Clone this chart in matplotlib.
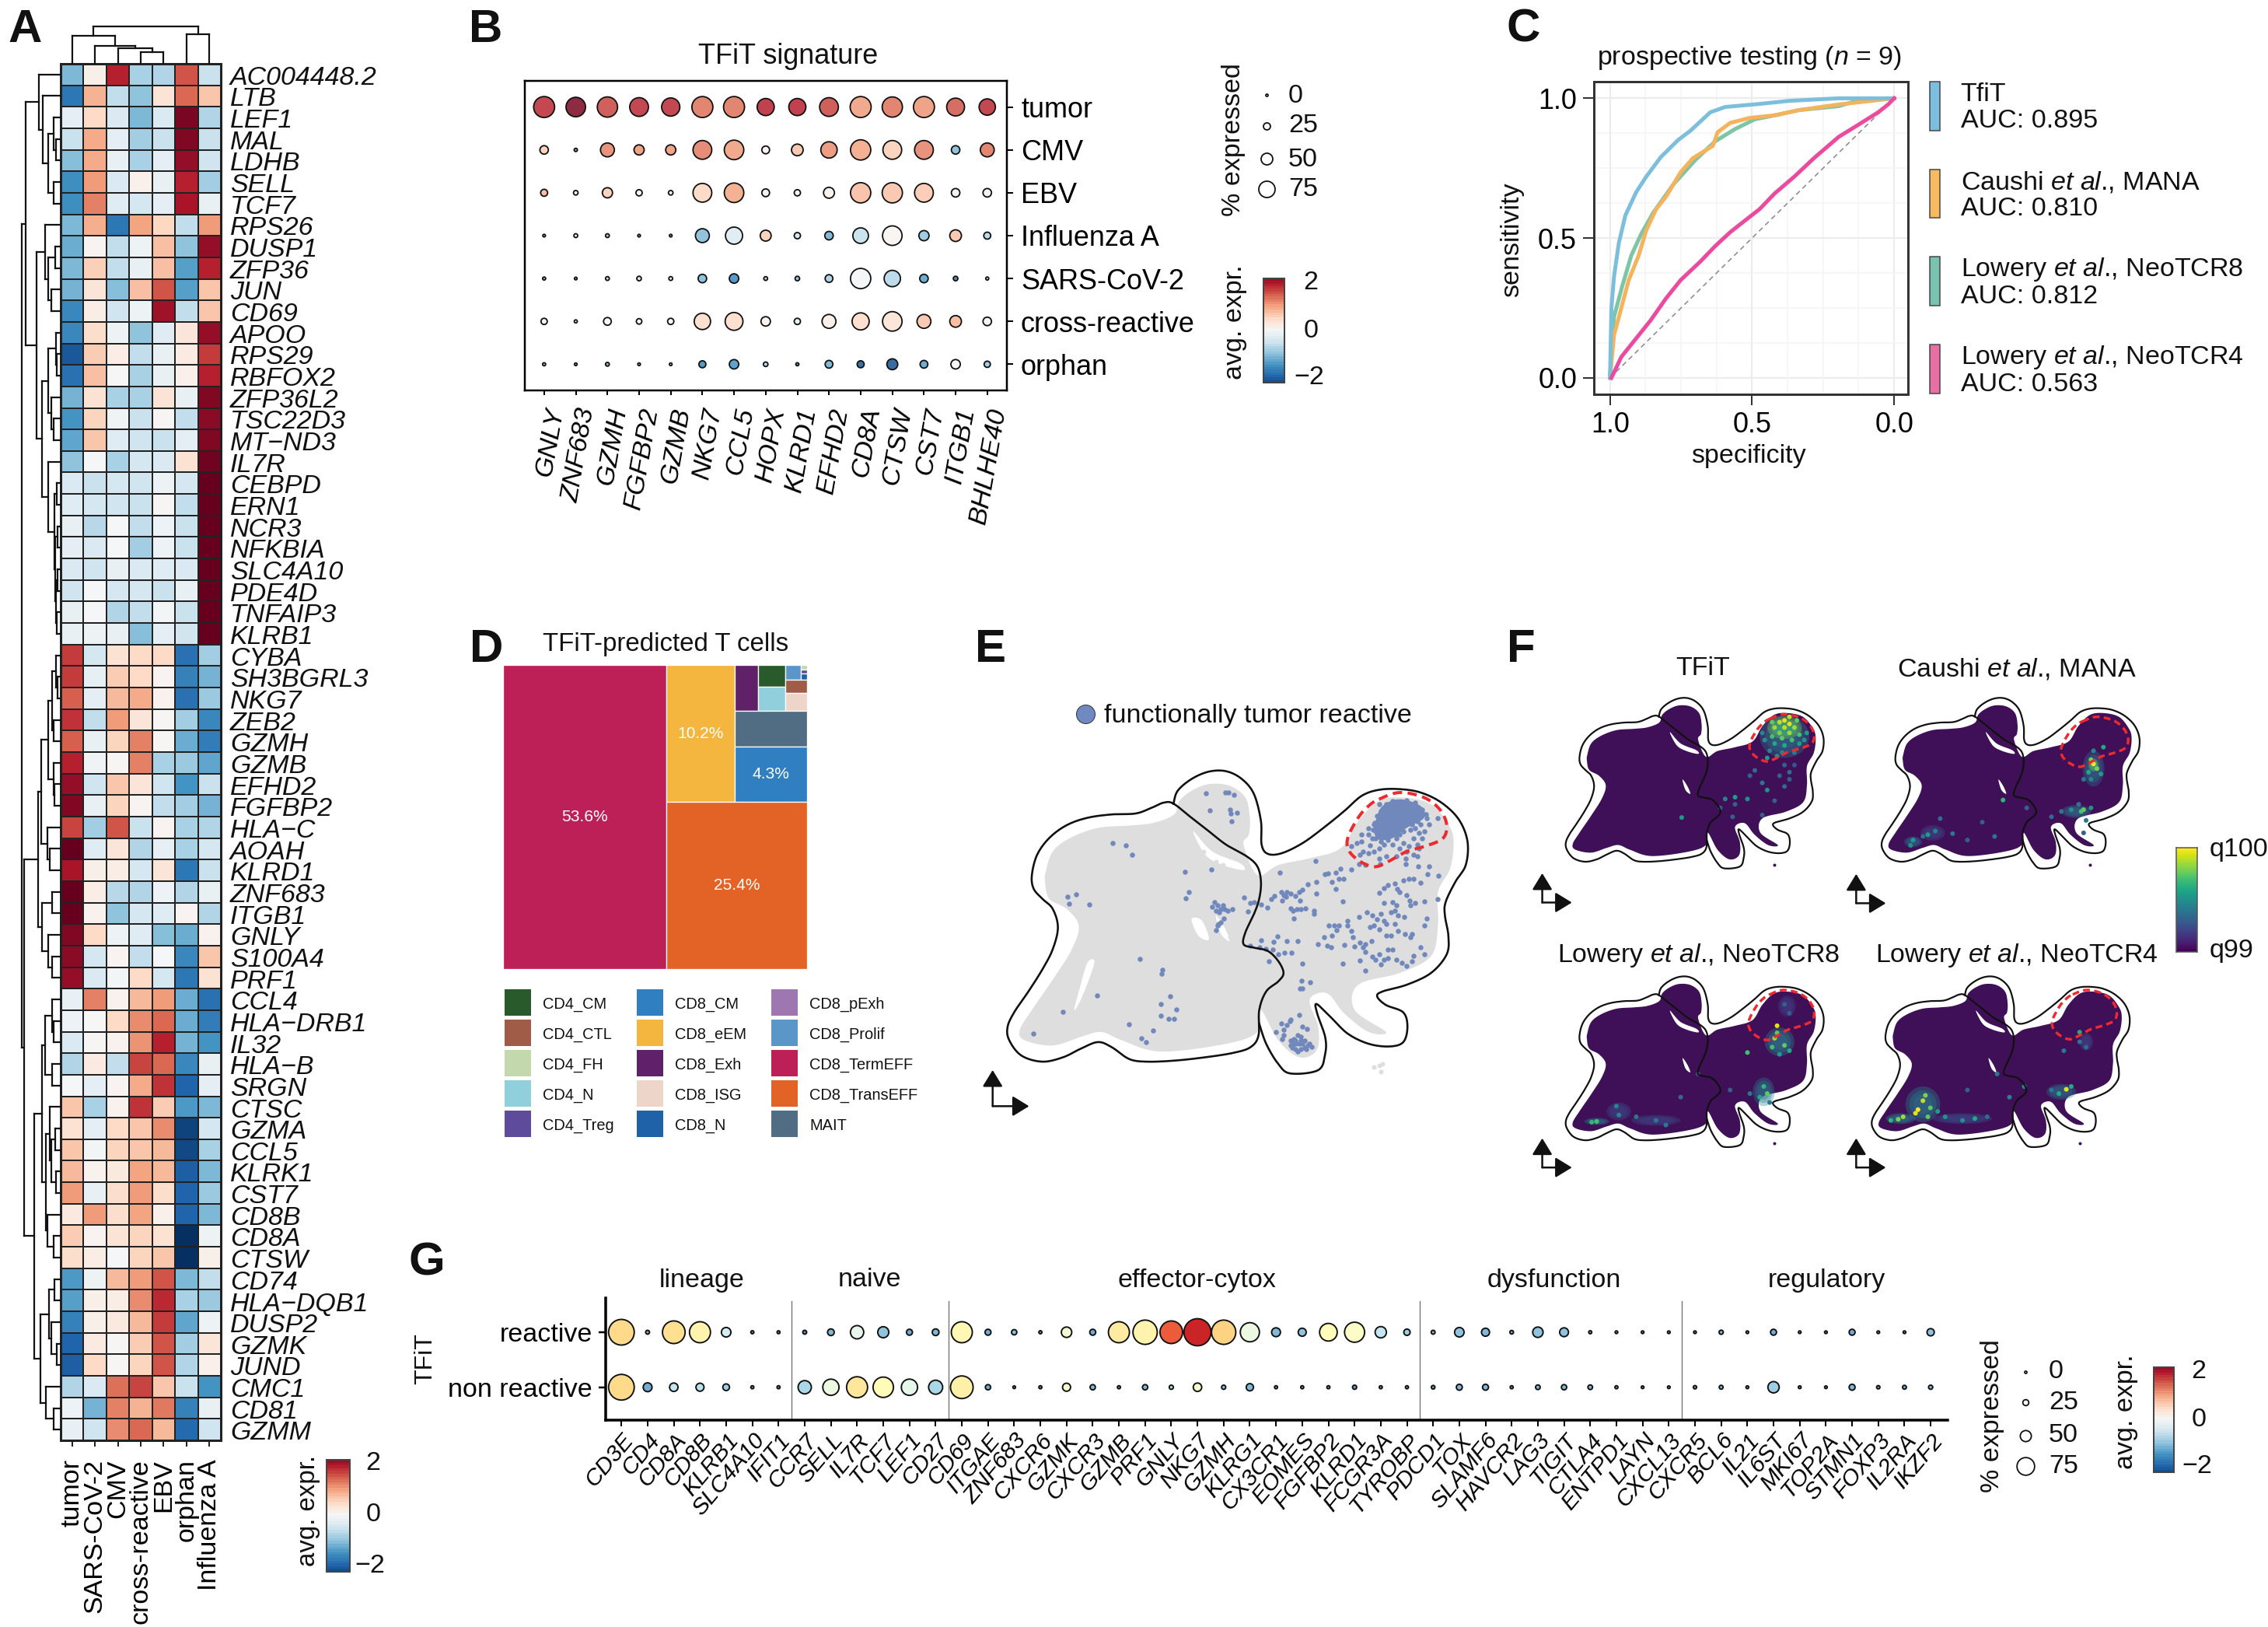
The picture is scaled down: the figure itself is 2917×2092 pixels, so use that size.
import numpy as np
import matplotlib
matplotlib.use("Agg")
import matplotlib.pyplot as plt
from matplotlib.patches import Polygon, Rectangle, Ellipse
from matplotlib.colors import Normalize

plt.rcParams['font.family'] = ['Liberation Sans', 'DejaVu Sans']
plt.rcParams['mathtext.fontset'] = 'custom'
plt.rcParams['mathtext.rm'] = 'Liberation Sans'
plt.rcParams['mathtext.it'] = 'Liberation Sans:italic'
plt.rcParams['mathtext.bf'] = 'Liberation Sans:bold'

W, H = 2917, 2092

# ---------------------------------------------------------------- panel A data
A_genes = ["AC004448.2", "LTB", "LEF1", "MAL", "LDHB", "SELL", "TCF7", "RPS26", "DUSP1", "ZFP36", "JUN", "CD69",
           "APOO", "RPS29", "RBFOX2", "ZFP36L2", "TSC22D3", "MT\u2212ND3", "IL7R", "CEBPD", "ERN1", "NCR3", "NFKBIA",
           "SLC4A10", "PDE4D", "TNFAIP3", "KLRB1", "CYBA", "SH3BGRL3", "NKG7", "ZEB2", "GZMH", "GZMB", "EFHD2",
           "FGFBP2", "HLA\u2212C", "AOAH", "KLRD1", "ZNF683", "ITGB1", "GNLY", "S100A4", "PRF1", "CCL4", "HLA\u2212DRB1",
           "IL32", "HLA\u2212B", "SRGN", "CTSC", "GZMA", "CCL5", "KLRK1", "CST7", "CD8B", "CD8A", "CTSW", "CD74",
           "HLA\u2212DQB1", "DUSP2", "GZMK", "JUND", "CMC1", "CD81", "GZMM"]
A_groups = ["tumor", "SARS-CoV-2", "CMV", "cross-reactive", "EBV", "orphan", "Influenza A"]
A_values = [
    [-.9, .12, 1.55, -.65, -.6, 1.25, -.45], [-1.45, .7, -.5, -.8, .28, 1.15, .55],
    [-.2, .4, -.3, -.9, -.3, 1.9, -.6], [-.45, .75, -.2, -.7, -.45, 1.85, -.45],
    [-.85, .75, -.15, -.65, -.2, 1.75, -.4], [-1.25, .85, -.3, .1, -.15, 1.55, -.7],
    [-1.25, 1.0, -.25, -.35, -.2, 1.65, -.15], [-.9, .72, -1.45, .8, .42, -.5, .85],
    [-1, .05, -.5, -.1, .6, -.8, 1.75], [-.9, .48, -.5, -.15, .6, -1.1, 1.55],
    [-.95, .25, -.85, .6, 1.25, -1.1, .55], [-1.3, .15, -.4, -.1, 1.7, -.5, .55],
    [-1.3, .35, -.1, -.8, -.25, .25, 1.75], [-1.7, .5, .15, -.5, -.15, .18, 1.4],
    [-1.5, .6, 0, -.65, -.15, .1, 1.55], [-.95, .3, -.65, -.65, .28, -.15, 1.85],
    [-1.2, .45, -.08, -.45, .03, -.5, 1.8], [-1.05, .55, -.25, -.4, -.45, -.2, 1.85],
    [-.8, -.03, -.65, -.35, -.3, .3, 1.95], [-.3, -.45, -.35, -.4, -.1, -.35, 2.2],
    [-.25, -.35, -.4, -.45, .03, -.5, 2.2], [-.15, -.55, -.02, -.5, -.12, -.45, 2.2],
    [-.2, -.3, -.02, -.7, -.12, -.45, 2.2], [-.3, -.4, -.15, -.3, -.25, -.3, 2.2],
    [-.4, -.03, -.35, -.35, -.45, -.15, 2.2], [-.15, -.02, -.6, -.5, -.05, -.45, 2.1],
    [-.15, -.1, -.15, -.85, -.2, -.4, 2.15], [1.4, -.35, .3, .4, .4, -1.5, -.7],
    [1.4, -.18, .5, .4, .05, -1.35, -.95], [1.2, -.2, .65, .75, .08, -1.5, -.75],
    [1.45, -.5, .85, .25, .02, -.7, -1.3], [1.2, -.15, .45, 1.0, .02, -1.0, -1.4],
    [1.55, -.08, .02, 1.0, -.65, -.75, -1.05], [1.75, -.4, .55, .25, -.4, -1.2, -.45],
    [1.85, -.15, .45, .05, -.5, -.7, -.95], [1.35, -.7, 1.25, -.45, .05, -.65, -.6],
    [2.0, -.25, .25, -.6, -.18, -.65, -.35], [1.65, .12, .15, -.35, .25, -1.45, -.45],
    [2.05, .15, -.55, -.6, -.12, -.6, -.15], [2.05, .08, -.8, -.35, -.25, .05, -.6],
    [1.85, .4, -.12, -.25, -.85, -1.0, .08], [1.8, -.35, .05, -.5, -.03, -1.3, .55],
    [1.75, -.3, -.05, .4, -.35, -1.45, .3], [-.15, 1.0, .08, .65, .85, -1.0, -1.5],
    [-.12, 0, .4, .95, 1.15, -1.0, -1.4], [-.3, .02, .08, .9, 1.55, -.95, -1.2],
    [-.6, .18, -.5, 1.35, 1.15, -1.3, -.15], [-.02, -.2, .05, .75, 1.45, -1.6, -.2],
    [.55, -.65, .08, 1.45, .5, -1.15, -.9], [.3, -.2, .4, .55, .95, -1.85, -.35],
    [.55, -.05, .45, .55, .65, -1.8, -.65], [.65, .08, .2, .8, .65, -1.65, -.9],
    [.85, -.15, .35, .85, .35, -1.6, -.75], [.2, .85, .35, .8, .1, -1.6, -.9],
    [.5, .05, .28, .45, .3, -2.4, -.1], [.35, .15, -.02, .45, .55, -2.4, .12],
    [-1.15, -.1, .65, .85, 1.25, -.9, -.5], [-1.1, .12, .15, .95, 1.5, -.65, -.75],
    [-1.35, .12, .2, .65, 1.4, -1.05, -.1], [-1.6, .18, .03, .5, 1.25, -.7, .25],
    [-1.65, .4, .03, .45, 1.25, -.6, .1], [-.6, -.3, 1.1, 1.35, .55, -.45, -1.2],
    [-.12, -.95, 1.0, .7, 1.05, -1.35, -.15], [-.15, -.4, .95, 1.15, .65, -1.55, -.4]]

# dendrograms: (height, left, right); integers are leaf indices
A_row_upper = (45,
               (28, 0, (23, 1, (16, (9, 2, (6, 3, 4)), (9, 5, 6)))),
               (31.5,
                (20.5, 7, (15.6, (7, 8, 9), (12, 10, 11))),
                (24,
                 (15.6, (6.5, 12, (5, 13, 14)), (11.6, 15, (9, 16, 17))),
                 (15.6, 18, (8.5, (5, 19, 20), (7.5, (4, 21, 22), (6.5, (4, 23, 24), (5.5, 25, 26))))))))
A_row_lower = (47,
               (29,
                (25, (16, (11, (6, 27, (4, 28, 29)), (9, 30, 31)), (9, 32, (8, 33, 34))), (17, 35, (14, 36, 37))),
                (24, (11, 38, 39), (16, 40, (11, 41, 42)))),
               (34.5,
                (24,
                 (20, (11, 43, (9, 44, 45)), (11, 46, 47)),
                 (19, (14, 48, (12, (7, 49, 50), (6, 51, 52))), (17, 53, (9, 54, 55)))),
                (26,
                 (15, (8, 56, 57), (12, 58, (5, 59, 60))),
                 (19, 61, (9, 62, 63)))))
A_row_tree = (50, A_row_upper, A_row_lower)
A_col_tree = (48, (36, 0, (23, 1, (20, 2, (15, 3, 4)))), (38, 5, 6))

# ---------------------------------------------------------------- panel B data
B_genes = ["GNLY", "ZNF683", "GZMH", "FGFBP2", "GZMB", "NKG7", "CCL5", "HOPX", "KLRD1", "EFHD2", "CD8A", "CTSW", "CST7",
           "ITGB1", "BHLHE40"]
B_groups = ["tumor", "CMV", "EBV", "Influenza A", "SARS-CoV-2", "cross-reactive", "orphan"]
B_pct = [[100, 92, 96, 88, 85, 100, 100, 79, 79, 88, 100, 96, 100, 83, 75],
         [33, 5, 62, 42, 42, 88, 92, 29, 50, 75, 96, 88, 88, 33, 62],
         [25, 12, 42, 21, 12, 88, 92, 29, 21, 46, 96, 96, 88, 33, 33],
         [2, 8, 8, 2, 2, 62, 79, 46, 21, 33, 71, 92, 42, 50, 25],
         [4, 2, 8, 12, 8, 33, 38, 8, 12, 29, 96, 75, 33, 12, 4],
         [21, 4, 29, 17, 21, 75, 83, 38, 21, 62, 79, 92, 62, 50, 33],
         [4, 2, 8, 2, 2, 25, 38, 12, 4, 29, 25, 46, 29, 38, 21]]
B_expr = [[1.5, 1.9, 1.35, 1.5, 1.5, 1.1, 1.1, 1.55, 1.55, 1.35, .85, 1.1, .9, 1.25, 1.5],
          [.5, 1., 1.0, .9, .9, 1.05, .85, .1, .6, .95, .8, .5, 1., -.9, 1.1],
          [.7, .1, .5, .05, .05, .45, .8, -.1, .1, .1, .65, .6, .55, -.1, -.1],
          [-1, -.1, -.8, -1., -1, -.9, -.3, .5, -.4, -1, -.5, .05, -.8, .6, -.6],
          [-.9, -1, -.6, -.4, -.3, -.9, -1.3, -.7, -.9, -.7, -.05, -.6, -1.1, -1.4, -.5],
          [.05, -.1, .05, .05, .05, .4, .4, .1, -.2, .15, .4, .3, .6, .7, -.1],
          [-.8, -1, -1, -.8, -.5, -1.3, -1.2, -.6, -1.2, -1, -1.7, -1.75, -1.1, .05, -.8]]
PCT_LEGEND = [0, 25, 50, 75]

# ---------------------------------------------------------------- panel C data
C_tfit_spec = [1, .995, .986, .969, .946, .908, .873, .821, .76, .717, .647, .595, .473, .369, .195, 0]
C_tfit_sens = [0, .251, .361, .482, .581, .664, .719, .79, .851, .884, .95, .969, .98, .991, 1, 1]
C_mana_spec = [1, .986, .96, .934, .899, .873, .838, .803, .751, .708, .638, .621, .577, .508, .421, .334, .195, 0]
C_mana_sens = [0, .152, .251, .35, .438, .526, .603, .648, .736, .786, .83, .879, .912, .93, .939, .958, .978, 1]
C_tcr8_spec = [1, .986, .957, .925, .89, .847, .777, .699, .63, .56, .49, .421, .334, .195, .108, 0]
C_tcr8_sens = [0, .218, .328, .438, .515, .592, .692, .78, .846, .89, .925, .939, .958, .972, .998, 1]
C_tcr4_spec = [.995, .96, .908, .856, .803, .751, .682, .63, .577, .473, .421, .351, .282, .195, .125, .056, .021, 0]
C_tcr4_sens = [0, .075, .141, .207, .284, .35, .416, .471, .521, .604, .659, .72, .786, .862, .906, .95, .978, 1]
C_labels = ["TfiT", r"Caushi $\mathit{et\ al}$., MANA", r"Lowery $\mathit{et\ al}$., NeoTCR8",
            r"Lowery $\mathit{et\ al}$., NeoTCR4"]
C_auc = ["AUC: 0.895", "AUC: 0.810", "AUC: 0.812", "AUC: 0.563"]
C_legend_colors = ['#7dbde0', '#f8ba5e', '#79c3ae', '#e86fa4']

# ---------------------------------------------------------------- panel D data
D_celltypes = ["CD4_CM", "CD4_CTL", "CD4_FH", "CD4_N", "CD4_Treg", "CD8_CM", "CD8_eEM", "CD8_Exh", "CD8_ISG", "CD8_N",
               "CD8_pExh", "CD8_Prolif", "CD8_TermEFF", "CD8_TransEFF", "MAIT"]
D_colors = ['#285a2b', '#a05c47', '#c3d9ad', '#90d0dd', '#5e4b9c', '#2f7fc1', '#f4b63f', '#5f2168', '#edd5c9',
            '#2062a8', '#9e76b0', '#5b96c8', '#bc2056', '#e36225', '#506d84']
D_percent = {"CD8_TermEFF": 53.6, "CD8_TransEFF": 25.4, "CD8_eEM": 10.2, "CD8_CM": 4.3, "MAIT": 2.8, "CD8_Exh": 1.13,
             "CD4_CM": .64, "CD4_N": .72, "CD8_Prolif": .24, "CD4_FH": .03, "CD4_Treg": .025, "CD8_N": .045,
             "CD4_CTL": .295, "CD8_ISG": .43, "CD8_pExh": 0}
D_tree = ('h', ["CD8_TermEFF",
                ('v', [('h', ["CD8_eEM",
                              ('v', [('h', ["CD8_Exh", ('v', ["CD4_CM", "CD4_N"]),
                                            ('v', [('h', ["CD8_Prolif", ('v', ["CD4_FH", "CD4_Treg", "CD8_N"])]),
                                                   "CD4_CTL", "CD8_ISG"])]),
                                     "MAIT", "CD8_CM"])]),
                       "CD8_TransEFF"])])

# ---------------------------------------------------------------- embedding shapes
E_left_lobe = [(648, 538), (620, 535), (590, 548), (540, 567), (470, 570), (400, 580), (340, 602), (290, 640), (255, 690),
               (240, 750), (245, 790), (270, 820), (300, 850), (315, 905), (300, 970), (270, 1030), (230, 1095),
               (190, 1155), (170, 1200), (175, 1240), (210, 1285), (270, 1303), (330, 1290), (380, 1265), (430, 1245),
               (470, 1260), (520, 1295), (570, 1303), (650, 1300), (740, 1290), (820, 1277), (870, 1260), (893, 1225),
               (895, 1150), (915, 1095), (950, 1065), (965, 1040), (950, 1005), (920, 975), (880, 965), (850, 955),
               (855, 920), (880, 865), (895, 820), (900, 770), (890, 725), (860, 695), (800, 660), (750, 620), (700, 580)]
E_right_lobe = [(648, 538), (660, 500), (700, 465), (750, 443), (800, 442), (845, 465), (880, 510), (900, 590), (902, 660),
                (920, 687), (960, 685), (1020, 655), (1080, 610), (1140, 560), (1190, 515), (1240, 497), (1300, 495),
                (1360, 505), (1420, 535), (1470, 585), (1495, 650), (1490, 720), (1460, 770), (1432, 830), (1430, 870),
                (1440, 930), (1435, 985), (1390, 1040), (1320, 1075), (1250, 1095), (1235, 1110), (1260, 1135),
                (1310, 1157), (1322, 1200), (1310, 1245), (1270, 1258), (1210, 1250), (1150, 1220), (1100, 1170),
                (1060, 1132), (1062, 1160), (1085, 1230), (1085, 1280), (1065, 1328), (985, 1338), (950, 1310),
                (915, 1250), (895, 1190)]
E_cells = [(280, 740), (300, 680), (350, 640), (430, 610), (520, 603), (590, 595), (650, 570), (665, 530), (700, 500),
           (750, 480), (810, 485), (855, 520), (868, 580), (865, 630), (850, 660), (890, 750), (950, 720), (1040, 700),
           (1130, 670), (1180, 590), (1240, 530), (1310, 520), (1390, 540), (1440, 600), (1455, 650), (1445, 730),
           (1410, 800), (1410, 900), (1390, 990), (1300, 1040), (1180, 1075), (1170, 1150), (1260, 1215), (1210, 1215),
           (1140, 1160), (1090, 1100), (1040, 1120), (1065, 1200), (1060, 1270), (1010, 1290), (950, 1240), (900, 1150),
           (890, 1215), (800, 1250), (610, 1273), (500, 1240), (440, 1215), (380, 1230), (300, 1255), (220, 1240),
           (205, 1210), (240, 1150), (300, 1060), (355, 970), (375, 900), (340, 850), (290, 820), (278, 770)]
E_gaps = [[(705, 620), (760, 680), (840, 715), (850, 735), (790, 720), (740, 690)],
          [(770, 870), (795, 905), (810, 945), (785, 925)]]
E_gap_speckle = [[(400, 1010), (420, 1010), (385, 1110), (362, 1150), (378, 1085)],
                 [(700, 880), (730, 885), (750, 940), (720, 930)]]
E_grey_dots = [(750, 710), (770, 710), (790, 720), (760, 740), (810, 735), (830, 740), (775, 765), (850, 770), (865, 745),
               (800, 775), (825, 800), (790, 800), (720, 700), (735, 680), (870, 790), (1240, 1315), (1225, 1318),
               (1250, 1310), (1245, 1332), (780, 900), (810, 935)]
E_blob = [(1230, 590), (1250, 545), (1300, 525), (1360, 545), (1370, 580), (1320, 610), (1280, 640), (1240, 645), (1225, 620)]
E_hits_x_y = [
    (742, 507), (797, 505), (806, 504), (823, 511), (752, 558), (810, 555), (814, 568), (832, 565), (815, 590), (472, 654),
    (510, 662), (528, 690), (680, 741), (757, 733), (692, 801), (684, 819), (343, 813), (367, 807), (347, 835), (406, 836),
    (765, 830), (760, 845), (775, 840), (785, 850), (770, 855), (780, 860), (795, 850), (805, 855), (818, 852), (790, 840),
    (792, 878), (785, 890), (775, 900), (770, 913), (778, 895), (851, 817), (862, 857), (868, 832), (880, 830), (900, 838),
    (918, 847), (955, 743), (1058, 709), (1085, 748), (1092, 745), (1115, 742), (1130, 732), (1125, 760), (1105, 770),
    (1138, 760), (1115, 790), (1060, 770), (1035, 778), (1060, 805), (930, 822), (938, 812), (958, 800), (965, 810),
    (975, 800), (985, 805), (960, 825), (972, 815), (1000, 812), (1010, 800), (1020, 793), (1012, 825), (985, 848),
    (992, 855), (1003, 850), (1015, 852), (1028, 848), (1052, 855), (1052, 865), (1136, 828), (995, 878), (1110, 900),
    (1095, 900), (1125, 900), (1118, 912), (1105, 930), (1082, 935), (1065, 955), (1090, 960), (1102, 965), (1140, 958),
    (1148, 885), (1150, 900), (1160, 915), (1165, 935), (1170, 962), (1185, 950), (1200, 955), (1183, 875), (1205, 860),
    (1220, 870), (1235, 880), (1245, 865), (1255, 885), (1215, 905), (1225, 900), (1240, 910), (1260, 895), (1275, 860),
    (1285, 855), (1290, 840), (1280, 830), (1295, 870), (1313, 875), (1285, 895), (1295, 915), (1260, 930), (1275, 930),
    (1315, 925), (1335, 925), (1330, 935), (1370, 900), (1378, 878), (1218, 945), (1195, 965), (1200, 978), (1240, 985),
    (1265, 970), (1280, 970), (1255, 1000), (1220, 992), (1230, 1000), (1245, 1015), (1265, 995), (1290, 1000),
    (1305, 1010), (1320, 1020), (1335, 1005), (1340, 990), (1370, 985), (1360, 965), (1186, 1003), (1200, 1033),
    (1135, 1013), (1240, 802), (1255, 788), (1265, 780), (1285, 775), (1310, 765), (1325, 760), (1340, 760), (1360, 772),
    (1380, 748), (1385, 723), (1412, 752), (1408, 820), (1370, 828), (1345, 832), (1328, 825), (1330, 840), (1255, 833),
    (1292, 790), (1320, 810), (1300, 800), (900, 943), (937, 948), (948, 932), (975, 945), (1005, 945), (870, 960),
    (895, 965), (915, 968), (935, 970), (950, 985), (968, 980), (988, 980), (922, 1005), (1020, 1012), (1018, 1063),
    (1042, 1068), (1012, 1087), (1020, 1087), (551, 998), (617, 1030), (613, 1042), (427, 1106), (638, 1110), (612, 1132),
    (657, 1148), (612, 1167), (635, 1176), (650, 1175), (330, 1155), (245, 1219), (519, 1192), (589, 1210), (555, 1233),
    (570, 1246), (985, 1178), (983, 1183), (1010, 1165), (958, 1190), (975, 1195), (1020, 1200), (1033, 1205), (965, 1208),
    (943, 1215), (965, 1225), (960, 1235), (985, 1240), (995, 1235), (1005, 1225), (1015, 1230), (1025, 1240), (1040, 1250),
    (1045, 1260), (1035, 1255), (1000, 1250), (1010, 1250), (1020, 1250), (985, 1255), (990, 1262), (1000, 1265),
    (1015, 1265), (1025, 1262), (1005, 1272), (1015, 1240), (1000, 1240), (995, 1250), (1030, 1265), (1410, 580), (1378, 582),
    (1385, 600), (1370, 620), (1355, 625), (1365, 640), (1340, 640), (1350, 660), (1325, 663), (1310, 655), (1300, 670),
    (1320, 680), (1340, 690), (1355, 672), (1350, 695), (1318, 700), (1290, 695), (1240, 702), (1260, 695), (1185, 690),
    (1195, 680), (1210, 685), (1225, 680), (1215, 662), (1240, 670), (1255, 660), (1190, 650), (1160, 665), (1175, 655),
    (1210, 630), (1190, 630), (1220, 640), (1240, 540), (1210, 610), (1225, 600), (1280, 660), (1300, 630), (1330, 615),
    (1345, 610), (1360, 600), (1183, 718), (1160, 733), (1200, 720), (1243, 718), (1318, 718), (1353, 725), (1290, 640),
    (1235, 575), (1245, 560), (1262, 540), (1280, 530), (1320, 528), (1345, 535), (1365, 555), (1375, 570), (1350, 590),
    (1335, 600), (1310, 620), (1290, 630), (1265, 645), (1245, 650), (1230, 640), (1222, 615), (1228, 595)]
E_contour = [(1240, 525), (1300, 505), (1370, 520), (1415, 555), (1435, 600), (1425, 640), (1380, 662), (1320, 680),
             (1270, 708), (1230, 725), (1190, 712), (1155, 680), (1150, 640), (1180, 580), (1210, 545)]

# ---------------------------------------------------------------- panel F data
F_titles = ["TFiT", r"Caushi $\mathit{et\ al}$., MANA", r"Lowery $\mathit{et\ al}$., NeoTCR8",
            r"Lowery $\mathit{et\ al}$., NeoTCR4"]
F_offsets = [(81, -22), (720, -22), (81, 758), (700, 758)]
F_contour_boxes = [(520, 650, 258, 390), (1150, 1285, 265, 405), (518, 650, 1030, 1170), (1132, 1262, 1030, 1168)]
F_arrow_corners = [(100, 785), (735, 787), (100, 1527), (735, 1527)]
F_clouds = [
    [(590, 320, 50, 60, .45), (590, 295, 35, 32, .8)],
    [(1215, 410, 22, 50, .42), (1215, 400, 10, 18, .8), (1180, 530, 30, 18, .45), (850, 615, 18, 15, .4), (890, 590, 25, 22, .25)],
    [(580, 1175, 30, 40, .5), (548, 1315, 22, 40, .45), (210, 1398, 25, 10, .45), (255, 1370, 25, 25, .25), (330, 1395, 50, 15, .25), (595, 1075, 18, 30, .22)],
    [(870, 1350, 35, 50, .5), (825, 1390, 30, 15, .5), (950, 1390, 60, 15, .28), (1150, 1315, 30, 22, .42), (1200, 1175, 14, 25, .25)]]
F_hot = [
    [(590, 275, .95), (580, 280, .9), (600, 285, .95), (570, 295, .85), (590, 295, .9), (610, 295, .85), (580, 310, .8),
     (600, 310, .85), (565, 320, .7), (620, 315, .7), (585, 325, .75), (605, 330, .7), (570, 340, .6), (590, 345, .6),
     (620, 340, .55), (560, 360, .45), (585, 365, .45), (610, 365, .4), (555, 380, .55), (575, 375, .5), (630, 330, .5),
     (550, 330, .5), (635, 310, .55), (545, 310, .45), (600, 265, .9), (615, 275, .75), (565, 280, .75), (590, 400, .3),
     (600, 420, .35), (580, 430, .3), (610, 400, .25), (520, 430, .3), (555, 470, .5), (490, 490, .55), (515, 495, .5),
     (470, 495, .45), (545, 450, .4), (490, 510, .3), (460, 520, .3), (545, 540, .3), (485, 545, .3), (382, 547, .55),
     (590, 460, .35), (570, 500, .3), (600, 440, .3), (530, 415, .35)],
    [(1215, 397, 1.), (1210, 385, .8), (1222, 410, .8), (1205, 420, .6), (1230, 425, .55), (1210, 440, .45), (1195, 440, .4),
     (1215, 360, .45), (1235, 350, .6), (1190, 530, .7), (1195, 525, .75), (1170, 525, .5), (1150, 530, .4), (1130, 545, .35),
     (1200, 555, .4), (1185, 510, .4), (850, 610, .55), (845, 625, .5), (880, 595, .55), (895, 585, .45), (905, 550, .35),
     (870, 600, .35), (930, 592, .4), (1032, 498, .65), (1080, 520, .3), (1015, 600, .4), (990, 560, .3), (1195, 590, .3),
     (1210, 520, .5), (960, 610, .3)],
    [(575, 1130, .95), (575, 1150, .75), (570, 1165, .85), (590, 1185, .75), (565, 1190, .7), (600, 1200, .6), (580, 1210, .55),
     (515, 1205, .7), (548, 1300, .65), (555, 1320, .75), (540, 1330, .6), (560, 1345, .4), (520, 1320, .4), (210, 1398, .7),
     (200, 1400, .65), (250, 1355, .45), (255, 1380, .45), (290, 1385, .4), (330, 1395, .4), (350, 1408, .4), (380, 1330, .35),
     (415, 1265, .25), (480, 1310, .3), (590, 1070, .3), (600, 1095, .3)],
    [(860, 1365, 1.), (855, 1375, .95), (870, 1340, .9), (875, 1325, .8), (885, 1360, .75), (880, 1385, .75), (820, 1392, .8),
     (830, 1385, .85), (805, 1395, .65), (900, 1370, .55), (915, 1385, .5), (950, 1395, .5), (975, 1390, .6), (1000, 1385, .35),
     (1160, 1308, .95), (1145, 1320, .6), (1170, 1300, .6), (1130, 1310, .4), (1187, 1148, .6), (1187, 1175, .4), (1200, 1190, .35),
     (1155, 1200, .4), (1075, 1300, .5), (1045, 1330, .45), (1020, 1265, .4), (960, 1310, .3)]]

# ---------------------------------------------------------------- panel G data
G_genes = ["CD3E", "CD4", "CD8A", "CD8B", "KLRB1", "SLC4A10", "IFIT1", "CCR7", "SELL", "IL7R", "TCF7", "LEF1", "CD27",
           "CD69", "ITGAE", "ZNF683", "CXCR6", "GZMK", "CXCR3", "GZMB", "PRF1", "GNLY", "NKG7", "GZMH", "KLRG1", "CX3CR1",
           "EOMES", "FGFBP2", "KLRD1", "FCGR3A", "TYROBP", "PDCD1", "TOX", "SLAMF6", "HAVCR2", "LAG3", "TIGIT", "CTLA4",
           "ENTPD1", "LAYN", "CXCL13", "CXCR5", "BCL6", "IL21", "IL6ST", "MKI67", "TOP2A", "STMN1", "FOXP3", "IL2RA", "IKZF2"]
G_groups = ["lineage", "naive", "effector-cytox", "dysfunction", "regulatory"]
G_group_sizes = [7, 6, 18, 10, 10]
G_rows = ["reactive", "non reactive"]
G_pct_reactive = [100, 12, 91, 86, 43, 6, 5, 12, 29, 59, 50, 25, 29, 86, 25, 21, 6, 47, 25, 86, 96, 91, 104, 96, 80, 40, 36, 75,
                  83, 51, 27, 12, 43, 36, 10, 47, 40, 6, 3, 3, 3, 3, 14, 3, 25, 3, 3, 25, 3, 3, 32]
G_pct_nonreactive = [100, 40, 38, 36, 29, 6, 6, 59, 70, 86, 84, 70, 62, 91, 21, 3, 6, 36, 21, 6, 21, 14, 38, 14, 32, 6, 6, 6,
                     14, 6, 6, 10, 25, 25, 6, 17, 21, 17, 6, 3, 3, 8, 12, 4, 51, 4, 3, 25, 8, 12, 14]
G_expr_reactive = [.45, -1.2, .4, .15, -.5, -1.4, -1.4, -1.4, -1.1, -.3, -1.0, -1.2, -1.1, .1, -1.2, -1, -1.3, -.15, -1.2, .25,
                   .15, 1.3, 1.7, .5, -.25, -1.1, -1, .05, -.05, -.6, -.9, -1.1, -1.0, -1.1, -1.2, -1.0, -1.0, -1.3, -1.2,
                   -1.3, -1.3, -1.3, -1.1, -1.3, -1.2, -1.3, -1.3, -1.2, -1.3, -1.3, -1.0]
G_expr_nonreactive = [.45, -1.2, -.6, -.7, -.9, -1.4, -1.4, -.8, -.25, .3, .05, -.3, -.8, .2, -1.2, -1.3, -1.4, -.1, -1.1, -1.4,
                      -1.1, -.8, -.1, -1.0, -1.1, -1.3, -1.3, -1.3, -1.3, -1.3, -1.3, -1.3, -1.1, -1.1, -1.3, -1.1, -1.1,
                      -1.1, -1.3, -1.3, -1.3, -1.3, -1.1, -1.3, -.9, -1.3, -1.3, -1.1, -1.3, -1.2, -1.1]


# ---------------------------------------------------------------- helpers
def pt(px):
    return px * 0.72


fig = plt.figure(figsize=(W / 100, H / 100), dpi=100, facecolor='white')


def ax_px(x0, y0, x1, y1, **kw):
    return fig.add_axes([x0 / W, 1 - y1 / H, (x1 - x0) / W, (y1 - y0) / H], **kw)


def smooth(points, closed=True, n=10):
    p = np.asarray(points, float)
    if closed:
        q = np.vstack([p[-1], p, p[0], p[1]])
    else:
        q = np.vstack([p[0], p, p[-1]])
    out = []
    for i in range(1, len(q) - 2):
        t = np.linspace(0, 1, n, endpoint=False)[:, None]
        a, b, c, d = q[i - 1], q[i], q[i + 1], q[i + 2]
        out.append(.5 * (2 * b + (c - a) * t + (2 * a - 5 * b + 4 * c - d) * t ** 2 + (3 * b - a - 3 * c + d) * t ** 3))
    out = np.vstack(out)
    if not closed:
        out = np.vstack([out, p[-1]])
    return out


def tree_segments(node):
    if isinstance(node, int):
        return node + .5, 0, []
    h, left, right = node
    p0, h0, s0 = tree_segments(left)
    p1, h1, s1 = tree_segments(right)
    segs = s0 + s1 + [(p0, h0, p0, h), (p0, h, p1, h), (p1, h, p1, h1)]
    return (p0 + p1) / 2, h, segs


def arrows(ax, x0, y0, xt, yt, lw=2.5, hl=18, hw=11):
    style = f'-|>,head_length={pt(hl)},head_width={pt(hw)}'
    for tip in ((x0, yt), (xt, y0)):
        ax.annotate('', xy=tip, xytext=(x0, y0), annotation_clip=False,
                    arrowprops=dict(arrowstyle=style, lw=pt(lw), color='#111111', shrinkA=0, shrinkB=0,
                                    mutation_scale=1))


def colorbar(x0, y0, x1, y1, cmap_name='RdBu_r', lo=.06, hi=.93, steps=40):
    a = ax_px(x0, y0, x1, y1)
    grad = np.linspace(hi, lo, steps)[:, None]
    a.imshow(grad, aspect='auto', cmap=cmap_name, vmin=0, vmax=1, interpolation='nearest')
    a.set_xticks([])
    a.set_yticks([])
    for s in a.spines.values():
        s.set_color('#444444')
        s.set_linewidth(pt(2))
    return a


overlay = ax_px(0, 0, W, H)
overlay.set_xlim(0, W)
overlay.set_ylim(H, 0)
overlay.axis('off')
overlay.set_zorder(10)
overlay.patch.set_alpha(0)


def T(x, y, s, px=34, ha='left', va='center', rot=0, **kw):
    dy = 3 if rot == 0 else 0
    overlay.text(x, y + dy, s, fontsize=pt(px), ha=ha, va=va, rotation=rot, color='#111111', **kw)


def size_legend(xd, ys, xl, yl, xt, yt, dia):
    for p, yy, yy2 in zip(PCT_LEGEND, ys, yl):
        overlay.scatter([xd], [yy], s=pt(dia(p)) ** 2, facecolor='white', edgecolor='#111111', linewidth=pt(1.8))
        T(xl, yy2, str(p))
    T(xt, yt, "% expressed", ha='center', rot=90)


for letter, x, y in [('A', 10, 54), ('B', 603, 54), ('C', 1938, 54), ('D', 604, 851), ('E', 1254, 851), ('F', 1938, 851),
                     ('G', 526, 1639)]:
    overlay.text(x, y, letter, fontsize=pt(60), fontweight='bold', ha='left', va='baseline', color='#111111')

# ---------------------------------------------------------------- A
axA = ax_px(78, 82, 284, 1852)
axA.pcolormesh(np.arange(8), np.arange(65), np.array(A_values), cmap='RdBu_r', vmin=-2, vmax=2, edgecolors='#222222',
               linewidth=pt(2))
axA.set_xlim(0, 7)
axA.set_ylim(64, 0)
axA.set_yticks([])
for i, gene in enumerate(A_genes):
    T(296, 82 + 27.66 * (i + .5) + 1.5, gene, px=34, style='italic')
axA.set_xticks(np.arange(7) + .5, A_groups, rotation=90, fontsize=pt(34), ha='center', va='top')
axA.tick_params(axis='x', length=pt(8), width=pt(2), pad=pt(16), color='#222222')
for s in axA.spines.values():
    s.set_linewidth(pt(3))
    s.set_color('#222222')

axR = ax_px(26, 82, 78, 1852)
axR.set_xlim(52, 0)
axR.set_ylim(64, 0)
axR.axis('off')
for p0, h0, p1, h1 in tree_segments(A_row_tree)[2]:
    axR.plot([h0, h1], [p0, p1], color='#111111', lw=pt(2.2), solid_capstyle='projecting')
axT = ax_px(78, 30, 284, 82)
axT.set_xlim(0, 7)
axT.set_ylim(0, 52)
axT.axis('off')
for p0, h0, p1, h1 in tree_segments(A_col_tree)[2]:
    axT.plot([p0, p1], [h0, h1], color='#111111', lw=pt(2.2), solid_capstyle='projecting')

colorbar(420, 1877, 450, 2021)
T(396, 1943, "avg. expr.", ha='center', rot=90, px=33)
T(480, 1879, "2", ha='center')
T(480, 1944, "0", ha='center')
T(476, 2011, "\u22122", ha='center')

# ---------------------------------------------------------------- B
axB = ax_px(675, 104, 1295, 502)
axB.set_xlim(-.61, 14.62)
axB.set_ylim(6.61, -.61)
px_b, py_b = np.meshgrid(np.arange(15), np.arange(7))
norm_b = Normalize(-2, 2)
cols_b = plt.get_cmap('RdBu_r')(norm_b(np.array(B_expr)))
cols_b[..., :3] = cols_b[..., :3] * .85 + .15


def dia_b(p):
    return 3 + .24 * np.asarray(p, float)


axB.scatter(px_b.ravel(), py_b.ravel(), s=pt(dia_b(B_pct).ravel()) ** 2, c=cols_b.reshape(-1, 4), edgecolors='#111111',
            linewidths=pt(1.8))
axB.yaxis.tick_right()
axB.set_yticks(range(7), B_groups, fontsize=pt(36))
axB.set_xticks(range(15))
axB.set_xticklabels(B_genes, rotation=80, ha='right', va='top', rotation_mode='anchor', fontsize=pt(34), style='italic')
axB.tick_params(axis='y', length=pt(8), width=pt(2), pad=pt(10))
axB.tick_params(axis='x', length=pt(6), width=pt(2), pad=pt(14))
for s in axB.spines.values():
    s.set_linewidth(pt(2.5))
T(1014, 70, "TFiT signature", px=36, ha='center')
size_legend(1629, [122, 162, 204, 243], 1657, [120, 158, 202, 241], 1586, 180, dia_b)
colorbar(1625, 358, 1652, 492)
T(1589, 414, "avg. expr.", ha='center', rot=90)
T(1686, 361, "2", ha='center')
T(1686, 422, "0", ha='center')
T(1684, 483, "\u22122", ha='center')

# ---------------------------------------------------------------- C
axC = ax_px(2050, 105, 2454, 507)
axC.set_xlim(1.0567, -.049)
axC.set_ylim(-.059, 1.0596)
for g in np.arange(0, 1.01, .125):
    major = abs(g * 2 - round(g * 2)) < 1e-9
    c = '#ececec' if major else '#f4f4f4'
    axC.axhline(g, color=c, lw=pt(2.2 if major else 1.5), zorder=0)
    axC.axvline(g, color=c, lw=pt(2.2 if major else 1.5), zorder=0)
axC.plot([1, 0], [0, 1], color='#8c8c8c', lw=pt(1.6), ls=(0, (4, 3)), zorder=1)
axC.plot(C_tcr8_spec, C_tcr8_sens, color='#7cc5a5', lw=pt(5), zorder=2)
axC.plot(C_mana_spec, C_mana_sens, color='#f5b35c', lw=pt(5), zorder=3)
axC.plot(C_tfit_spec, C_tfit_sens, color='#7cbfdd', lw=pt(5), zorder=4)
axC.plot(C_tcr4_spec, C_tcr4_sens, color='#ec4a9e', lw=pt(5), zorder=5)
axC.set_xticks([1, .5, 0], ["1.0", "0.5", "0.0"], fontsize=pt(36))
axC.set_yticks([0, .5, 1], ["0.0", "0.5", "1.0"], fontsize=pt(36))
axC.tick_params(axis='both', length=pt(14), width=pt(2), color='#333333', pad=pt(8))
for s in axC.spines.values():
    s.set_linewidth(pt(3))
    s.set_color('#333333')
T(2250, 71, r"prospective testing ($\mathit{n}$ = 9)", ha='center')
T(1945, 308, "sensitivity", ha='center', rot=90)
T(2249, 584, "specificity", ha='center')
for i, (lab, auc, col) in enumerate(zip(C_labels, C_auc, C_legend_colors)):
    off = i * 112.7
    overlay.add_patch(Rectangle((2481.5, 105 + off), 13.5, 62.5, facecolor=col, edgecolor='#444444', lw=pt(1.5)))
    T(2521.5, 118.6 + off, lab)
    T(2521.5, 153 + off, auc)

# ---------------------------------------------------------------- D
axD = ax_px(647.4, 855.5, 1037.7, 1245.8)
axD.set_xlim(0, 1)
axD.set_ylim(1, 0)
axD.axis('off')
color_of = dict(zip(D_celltypes, D_colors))


def total(node):
    return D_percent[node] if isinstance(node, str) else sum(total(c) for c in node[1])


def layout(node, x, y, w, h):
    if isinstance(node, str):
        axD.add_patch(Rectangle((x, y), w, h, facecolor=color_of[node], edgecolor='white', lw=pt(1.3)))
        if D_percent[node] >= 4:
            axD.text(x + w / 2, y + h / 2, f"{D_percent[node]:.1f}%", color='white', ha='center', va='center',
                     fontsize=pt(21))
        return
    t = total(node)
    for c in node[1]:
        f = total(c) / t
        if node[0] == 'h':
            layout(c, x, y, w * f, h)
            x += w * f
        else:
            layout(c, x, y, w, h * f)
            y += h * f


layout(D_tree, 0, 0, 1, 1)
T(856, 825, "TFiT-predicted T cells", px=33, ha='center')
for k, (ct, col) in enumerate(zip(D_celltypes, D_colors)):
    cx, row = k // 5, k % 5
    xs = [649, 818.7, 991.5][cx]
    xt = [698, 868, 1041][cx]
    yc = 1288.7 + row * 39
    overlay.add_patch(Rectangle((xs, yc - 17), 34, 34, facecolor=col, edgecolor='none'))
    T(xt, yc, ct, px=20)


# ---------------------------------------------------------------- E
def draw_shape(ax, cells_color, tx=lambda a: a, line=2.6, speckle=False):
    cells = tx(smooth(E_cells))
    ax.add_patch(Polygon(cells, closed=True, facecolor=cells_color, edgecolor='none', zorder=1))
    for g in E_gaps + (E_gap_speckle if speckle else []):
        ax.add_patch(Polygon(tx(smooth(g)), closed=True, facecolor='white', edgecolor='none', zorder=1.5))
    left = tx(smooth(E_left_lobe))
    left = np.vstack([left, left[0]])
    right = tx(smooth(E_right_lobe, closed=False))
    ax.plot(left[:, 0], left[:, 1], color='#111111', lw=pt(line), zorder=3)
    ax.plot(right[:, 0], right[:, 1], color='#111111', lw=pt(line), zorder=3)


axE = ax_px(1220, 800, 1920, 1480)
axE.set_xlim(0, 1568)
axE.set_ylim(1568, 0)
axE.axis('off')
draw_shape(axE, '#dedede', speckle=True)
dots = np.array(E_grey_dots)
axE.scatter(dots[:, 0], dots[:, 1], s=pt(6) ** 2, color='#dedede', zorder=1.8, linewidths=0)
axE.add_patch(Polygon(smooth(E_blob), closed=True, facecolor='#7088bb', edgecolor='none', zorder=2))
hits = np.array(E_hits_x_y)
axE.scatter(hits[:, 0], hits[:, 1], s=pt(6.5) ** 2, color='#7088bb', zorder=2.2, linewidths=0)
ctr = smooth(E_contour)
ctr = np.vstack([ctr, ctr[0]])
axE.plot(ctr[:, 0], ctr[:, 1], color='#ee2a2e', lw=pt(4), ls=(0, (3, 1.8)), zorder=4)
arrows(axE, 127, 1435, 232, 1328)
overlay.scatter([1396], [918], s=pt(24) ** 2, facecolor='#7089c0', edgecolor='#333333', linewidth=pt(1))
T(1419.5, 917, "functionally tumor reactive")

# ---------------------------------------------------------------- F
axF = ax_px(1920, 800, 2917, 1520)
axF.set_xlim(0, 1568)
axF.set_ylim(1568, 0)
axF.axis('off')
viridis = plt.get_cmap('viridis')
bb = np.array(E_contour)
for i, (dx, dy) in enumerate(F_offsets):
    def tx(a, dx=dx, dy=dy):
        a = np.asarray(a, float)
        return np.column_stack([a[:, 0] * .3932 + dx, a[:, 1] * .5317 + dy])
    draw_shape(axF, '#3f0f57', tx=tx, line=2.2)
    for ex, ey, rx, ry, v in F_clouds[i]:
        for scale in (1, .78, .55):
            axF.add_patch(Ellipse((ex, ey), 2 * rx * scale, 2 * ry * scale, facecolor=viridis(v * scale ** .5), alpha=.34,
                                  edgecolor='none', zorder=2))
    hot = np.array(F_hot[i])
    axF.scatter(hot[:, 0], hot[:, 1], s=pt(6) ** 2, c=hot[:, 2], cmap='viridis', vmin=0, vmax=1, linewidths=0, zorder=2.5)
    small = tx(np.array([(1240, 1320)]))
    axF.scatter(small[:, 0], small[:, 1], s=pt(4) ** 2, color='#3f0f57', linewidths=0)
    x0, x1, y0, y1 = F_contour_boxes[i]
    c = smooth(E_contour)
    c = np.vstack([c, c[0]])
    cx = x0 + (c[:, 0] - bb[:, 0].min()) / np.ptp(bb[:, 0]) * (x1 - x0)
    cy = y0 + (c[:, 1] - bb[:, 1].min()) / np.ptp(bb[:, 1]) * (y1 - y0)
    axF.plot(cx, cy, color='#ee2a2e', lw=pt(3.4), ls=(0, (2.6, 1.6)), zorder=4)
    ax0, ay0 = F_arrow_corners[i]
    arrows(axF, ax0, ay0, ax0 + 60, ay0 - 82)
for (x, y), t in zip([(2190, 857), (2594, 857), (2185, 1226), (2594, 1226)], F_titles):
    T(x, y, t, ha='center')
a = ax_px(2799, 1090, 2826, 1224)
a.imshow(np.linspace(1, 0, 64)[:, None], aspect='auto', cmap='viridis', vmin=0, vmax=1)
a.set_xticks([])
a.set_yticks([])
for s in a.spines.values():
    s.set_color('#555555')
    s.set_linewidth(pt(1.5))
T(2842, 1089, "q100")
T(2842, 1219, "q99")

# ---------------------------------------------------------------- G
axG = ax_px(778.7, 1669, 2505, 1826)
axG.set_xlim(-.61, 50.65)
axG.set_ylim(1.598, -.622)


def dia_g(p):
    p = np.asarray(p, float)
    return 3 + .15 * p + .0015 * p ** 2


xg = np.arange(len(G_genes))
for row, (pc, ex) in enumerate([(G_pct_reactive, G_expr_reactive), (G_pct_nonreactive, G_expr_nonreactive)]):
    axG.scatter(xg, np.full(len(xg), row), s=pt(dia_g(pc)) ** 2, c=ex, cmap='RdYlBu_r', vmin=-2, vmax=2,
                edgecolors='#111111', linewidths=pt(1.9), zorder=3)
for b in np.cumsum(G_group_sizes)[:-1]:
    axG.axvline(b - .5, ymin=0, ymax=.975, color='#777777', lw=pt(1.4))
for sp in ('top', 'right'):
    axG.spines[sp].set_visible(False)
for sp in ('left', 'bottom'):
    axG.spines[sp].set_linewidth(pt(3.5))
axG.set_yticks([0, 1], G_rows, fontsize=pt(34))
axG.set_xticks(xg)
axG.set_xticklabels(G_genes, rotation=50, ha='right', va='top', rotation_mode='anchor', fontsize=pt(30), style='italic')
axG.tick_params(axis='y', length=pt(9), width=pt(2.5), pad=pt(8))
axG.tick_params(axis='x', length=pt(8), width=pt(2), pad=pt(4))
for name, x in zip(G_groups, [902.6, 1118.5, 1539, 1998.8, 2349]):
    T(x, 1643, name, ha='center')
T(547, 1747, "TFiT", px=32, ha='center', rot=90)
size_legend(2605, [1764, 1803, 1846, 1885], 2635, [1761, 1800, 1842, 1882], 2563, 1821, dia_g)
colorbar(2770, 1758, 2796, 1893)
T(2734, 1815, "avg. expr.", ha='center', rot=90)
T(2828, 1761, "2", ha='center')
T(2828, 1822, "0", ha='center')
T(2826, 1883, "\u22122", ha='center')

fig.savefig('out.png', dpi=100, facecolor='white')
